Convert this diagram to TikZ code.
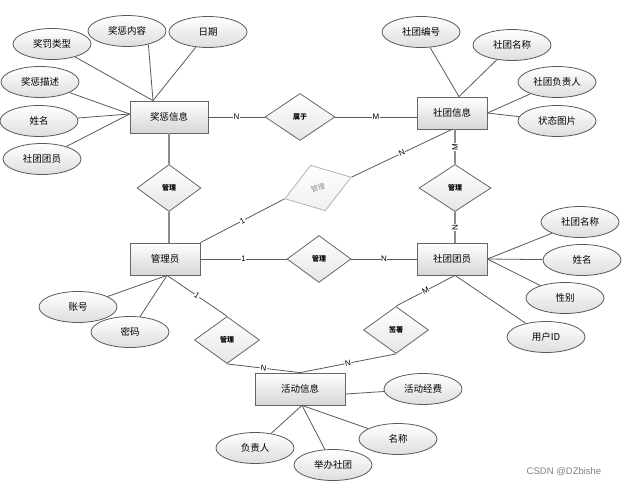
\documentclass[tikz,border=0pt]{standalone}
\usepackage{fontspec}
\setmainfont{Noto Sans CJK SC}
\newfontfamily\latinfont{Liberation Sans}
\usetikzlibrary{shapes.geometric}

\begin{document}
\begin{tikzpicture}[-,x=1pt,y=-1pt,line width=0.8pt,
                    every edge/.style={draw=black!65}]
  \tikzstyle{entity}=[rectangle,draw=black!60,top color=white,bottom color=black!16,
                      minimum width=70pt,minimum height=32pt,inner sep=0pt,
                      font=\fontsize{9.5}{11}\selectfont]
  \tikzstyle{attr}=[ellipse,draw=black!65,top color=white,bottom color=black!13,
                    minimum width=78pt,minimum height=31pt,inner sep=0pt,
                    font=\fontsize{9.5}{11}\selectfont]
  \tikzstyle{rel}=[diamond,draw=black!60,top color=white,bottom color=black!10,
                   minimum width=65pt,minimum height=47pt,inner sep=0pt,
                   font=\bfseries\fontsize{7}{8}\selectfont]
  \tikzstyle{lbl}=[fill=white,inner sep=0.6pt,font=\latinfont\fontsize{8}{9}\selectfont]
  \tikzstyle{heavy}=[draw=black!45,line width=1.6pt]

  \useasboundingbox (0,0) rectangle (626,487);

  % entities
  \node[entity,minimum width=78pt] (JCXX) at (169,117) {奖惩信息};
  \node[entity]                    (STXX) at (452,113) {社团信息};
  \node[entity]                    (GLY)  at (165,259) {管理员};
  \node[entity]                    (STTY) at (452,259) {社团团员};
  \node[entity,minimum width=90pt] (HDXX) at (300,389) {活动信息};

  % relations
  \node[rel,minimum width=70pt] (SY)  at (300,117) {属于};
  \node[rel,minimum width=64pt] (GL1) at (169,188) {管理};
  \node[rel,minimum width=70pt,minimum height=48pt,rotate=18,draw=black!30,
        text=black!45,bottom color=black!6,font=\fontsize{7}{8}\selectfont]
                                (GL2) at (318,188) {管理};
  \node[rel,minimum width=72pt] (GL3) at (455,188) {管理};
  \node[rel,minimum width=64pt] (GL4) at (319,259) {管理};
  \node[rel]                    (GL5) at (227,340) {管理};
  \node[rel]                    (QS)  at (396,330) {签署};

  % attributes
  \node[attr] (JCLX)  at (52,44)   {奖罚类型};
  \node[attr] (JCNR)  at (127,31)  {奖惩内容};
  \node[attr] (RQ)    at (208,32)  {日期};
  \node[attr] (JCMS)  at (40,82)   {奖惩描述};
  \node[attr] (XM1)   at (39,121)  {姓名};
  \node[attr] (STTY1) at (42,159)  {社团团员};
  \node[attr] (STBH)  at (421,32)  {社团编号};
  \node[attr] (STMC1) at (512,45)  {社团名称};
  \node[attr] (STFZR) at (557,82)  {社团负责人};
  \node[attr] (ZTTP)  at (557,121) {状态图片};
  \node[attr] (STMC2) at (580,222) {社团名称};
  \node[attr] (XM2)   at (582,260) {姓名};
  \node[attr] (XB)    at (565,298) {性别};
  \node[attr] (YHID)  at (546,337) {用户ID};
  \node[attr] (ZH)    at (78,307)  {账号};
  \node[attr] (MM)    at (130,332) {密码};
  \node[attr] (HDJF)  at (423,389) {活动经费};
  \node[attr] (FZR)   at (255,448) {负责人};
  \node[attr] (JBST)  at (333,465) {举办社团};
  \node[attr] (MC)    at (398,439) {名称};

  \node[text=black!50,font=\latinfont\fontsize{9.5}{11}\selectfont] (WM) at (564,472) {CSDN @DZbishe};

  % relation lines
  \path (JCXX) edge node[lbl] {N} (SY)
        (SY.east) edge node[lbl] {M} (SY.east -| STXX.west)
        (GLY) edge node[lbl] {1} (GL4)
        (GL4) edge node[lbl] {N} (STTY)
        (GLY.north east) edge node[lbl,sloped] {1} (GL2.west)
        (GL2.east) edge node[lbl,sloped] {N} (STXX.south)
        ([xshift=2pt]GLY.south) edge node[lbl,sloped] {1} (GL5.north)
        (GL5.south) edge node[lbl,sloped] {N} (HDXX.north)
        (QS.south) edge node[lbl,sloped] {N} (HDXX.north)
        ([xshift=3pt]STTY.south) edge node[lbl,sloped] {M} (QS.north);
  \path (JCXX.south) edge[heavy] (GL1.north)
        (GL1.south) edge[heavy] (GL1.south |- GLY.north)
        (GL3.north |- STXX.south) edge[heavy] node[lbl,rotate=90] {M} (GL3.north)
        (GL3.south) edge[heavy] node[lbl,rotate=90] {N} (GL3.south |- STTY.north);

  % attribute lines
  \path ([xshift=-16pt]JCXX.north) edge (JCLX) edge (JCNR.-32) edge (RQ)
        ([yshift=3pt]JCXX.west) edge (JCMS) edge (XM1) edge (STTY1)
        ([xshift=7pt]STXX.north) edge (STBH) edge (STMC1)
        (STXX.east) edge (STFZR) edge (ZTTP)
        (STTY.east) edge (STMC2) edge (XM2) edge (XB)
        ([xshift=3pt]STTY.south) edge (YHID)
        ([xshift=2pt]GLY.south) edge (ZH) edge (MM)
        ([yshift=-5pt]HDXX.east) edge (HDJF)
        ([xshift=2pt]HDXX.south) edge (FZR) edge (JBST) edge (MC);
\end{tikzpicture}
\end{document}
